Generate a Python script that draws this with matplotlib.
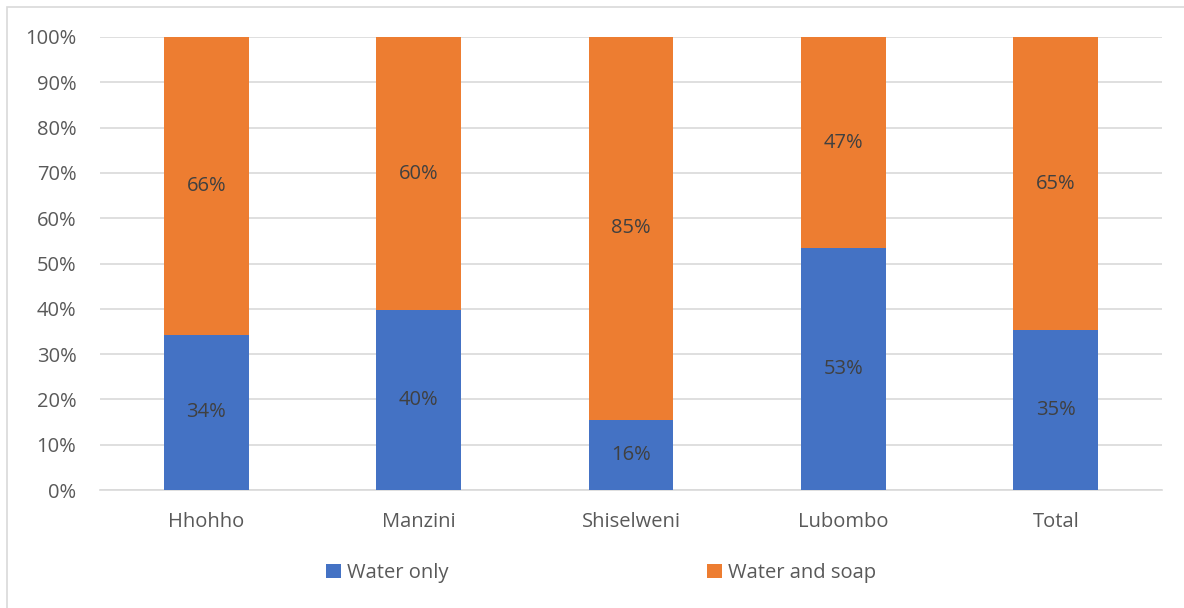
import matplotlib
matplotlib.use("Agg")
import matplotlib.pyplot as plt
from matplotlib.patches import Rectangle
from matplotlib.ticker import PercentFormatter

categories = ["Hhohho", "Manzini", "Shiselweni", "Lubombo", "Total"]
water_only = [34.3, 39.7, 15.5, 53.4, 35.3]
water_soap = [65.7, 60.3, 84.5, 46.6, 64.7]
labels_only = ["34%", "40%", "16%", "53%", "35%"]
labels_soap = ["66%", "60%", "85%", "47%", "65%"]
series_names = ["Water only", "Water and soap"]

plt.rcParams['font.family'] = ['Open Sans', 'DejaVu Sans']
blue = "#4472C4"
orange = "#ED7D31"
grid = "#D9D9D9"
txt = "#595959"
fs = 14.5

fig = plt.figure(figsize=(11.84, 6.08), dpi=100)
ax = fig.add_axes([100/1184, 1-490/608, 1062/1184, 453/608])

x = range(len(categories))
b1 = ax.bar(x, water_only, width=0.4, color=blue, label=series_names[0], zorder=3)
b2 = ax.bar(x, water_soap, width=0.4, bottom=water_only, color=orange, label=series_names[1], zorder=3)

for i in x:
    ax.text(i, water_only[i] / 2, labels_only[i], ha="center", va="center",
            fontsize=fs, color="#404040", zorder=4)
    ax.text(i, water_only[i] + water_soap[i] / 2, labels_soap[i], ha="center", va="center",
            fontsize=fs, color="#404040", zorder=4)

ax.set_xlim(-0.5, len(categories) - 0.5)
ax.set_ylim(0, 100)
ax.set_yticks(range(0, 101, 10))
ax.yaxis.set_major_formatter(PercentFormatter(decimals=0))
ax.set_xticks(list(x))
ax.set_xticklabels(categories)
ax.tick_params(axis="both", length=0, labelsize=fs, colors=txt)
ax.tick_params(axis="y", pad=17)
ax.tick_params(axis="x", pad=16)
ax.grid(axis="y", color=grid, linewidth=1.2, zorder=0)
for s in ["top", "right", "left"]:
    ax.spines[s].set_visible(False)
ax.spines["bottom"].set_color(grid)
ax.spines["bottom"].set_linewidth(1.2)

leg = fig.legend(handles=[b1, b2], labels=series_names, loc="center",
                 bbox_to_anchor=(601/1184, 1-573/608), ncol=2, frameon=False,
                 fontsize=fs, handlelength=0.75, handleheight=0.75,
                 handletextpad=0.3, columnspacing=12.8)
for t in leg.get_texts():
    t.set_color(txt)

fig.patches.append(Rectangle((7/1184, -0.1), 1.2, 1 - 7/608 + 0.1,
                             transform=fig.transFigure, fill=False,
                             edgecolor=grid, linewidth=1.2))

fig.savefig("out.png", dpi=100)
